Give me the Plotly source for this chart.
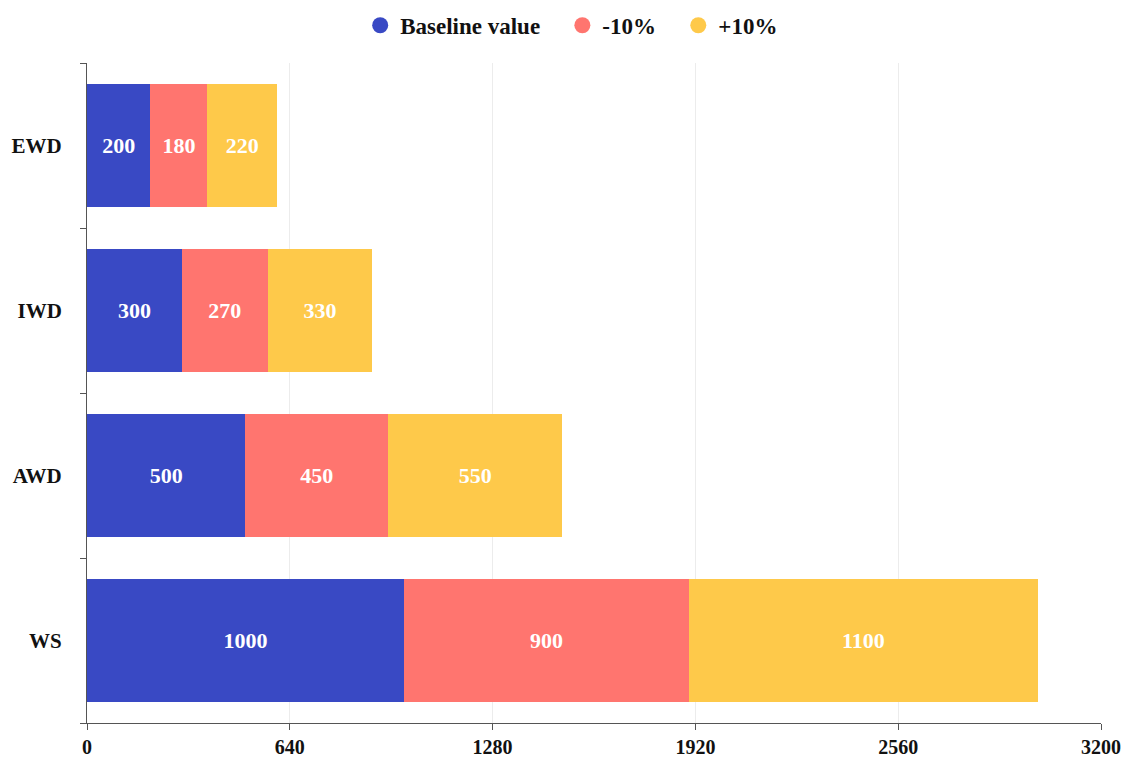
import plotly.graph_objects as go

categories = ["WS", "AWD", "IWD", "EWD"]
baseline = [1000, 500, 300, 200]
minus10 = [900, 450, 270, 180]
plus10 = [1100, 550, 330, 220]
series_names = ["Baseline value", "-10%", "+10%"]
colors = ["#3949c4", "#ff756f", "#fec94a"]
x_ticks = [0, 640, 1280, 1920, 2560, 3200]

FONT = "Liberation Serif, Times New Roman, serif"
PAD = "\u00a0\u00a0\u00a0"

fig = go.Figure()
for name, vals, col in zip(series_names, [baseline, minus10, plus10], colors):
    fig.add_trace(go.Bar(
        y=categories, x=vals, orientation="h", name=name,
        marker=dict(color=col, line=dict(width=0)),
        text=[str(v) for v in vals], textposition="inside",
        insidetextanchor="middle", constraintext="none",
        textfont=dict(family=FONT, size=22, color="white", weight="bold"),
        showlegend=False, hoverinfo="x+y",
    ))
for i, (name, col) in enumerate(zip(series_names, colors)):
    fig.add_trace(go.Scatter(
        x=[None], y=[None], mode="markers",
        name=name + (PAD if i < len(series_names) - 1 else ""),
        marker=dict(symbol="circle", size=22, color=col),
        showlegend=True,
    ))

fig.update_layout(
    barmode="stack",
    bargap=0.25,
    width=1127, height=763,
    margin=dict(l=87, r=26, t=63, b=40, autoexpand=False),
    paper_bgcolor="white", plot_bgcolor="white",
    font=dict(family=FONT, size=19, color="#111", weight="bold"),
    legend=dict(orientation="h", x=0.478, xanchor="center", y=0.995, yanchor="top",
                yref="container", traceorder="normal",
                font=dict(family=FONT, size=23, color="#111", weight="bold"),
                itemsizing="trace", itemwidth=30),
    xaxis=dict(range=[0, 3200], tickvals=x_ticks, ticktext=[str(t) for t in x_ticks],
               showgrid=True, gridcolor="#ececec", gridwidth=1, automargin=False,
               showline=True, linecolor="#555", linewidth=1,
               ticks="outside", ticklen=6, tickcolor="#555", zeroline=False,
               tickfont=dict(family=FONT, size=20, color="#111", weight="bold")),
    yaxis=dict(categoryorder="array", categoryarray=categories, automargin=False,
               showline=True, linecolor="#555", linewidth=1,
               ticks="outside", ticklen=6, tickcolor="#555", tickson="boundaries",
               showgrid=False, ticklabelstandoff=20,
               tickfont=dict(family=FONT, size=21, color="#111", weight="bold")),
)

fig.write_html("out.html")
